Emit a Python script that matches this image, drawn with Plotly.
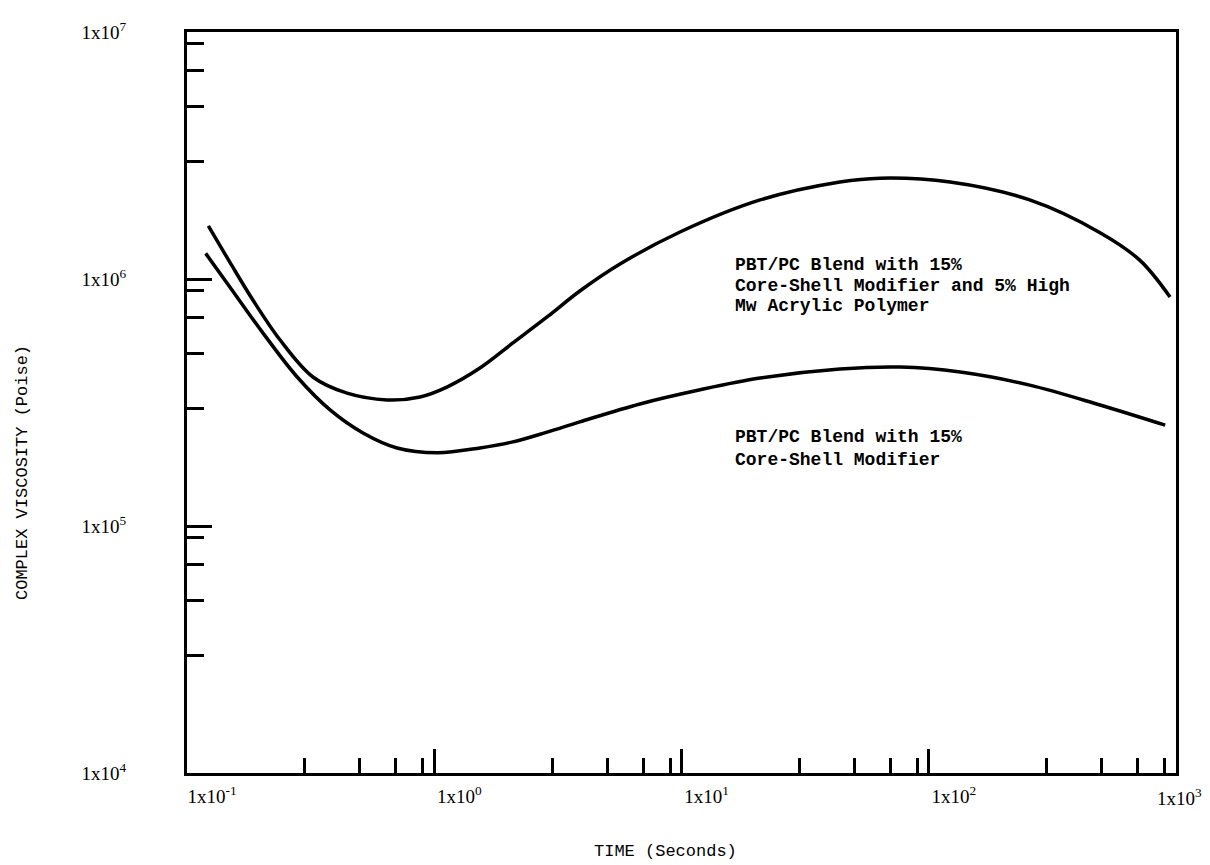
import plotly.graph_objects as go

# ---- data ----
time_upper = [0.122, 0.149, 0.185, 0.238, 0.323, 0.444, 0.644, 0.876, 1.13, 1.53, 2.08, 2.86,
              3.88, 5.64, 9.86, 20.8, 43.7, 63.5, 122, 256, 493, 715, 946]
visc_upper = [1.64e6, 1.17e6, 8.2e5, 5.66e5, 4.01e5, 3.45e5, 3.24e5, 3.33e5, 3.66e5, 4.36e5, 5.51e5, 7.02e5,
              8.94e5, 1.15e6, 1.55e6, 2.09e6, 2.47e6, 2.56e6, 2.47e6, 2.09e6, 1.54e6, 1.19e6, 8.46e5]

time_lower = [0.119, 0.149, 0.203, 0.279, 0.379, 0.515, 0.707, 1.03, 1.53, 2.08, 2.86, 3.88,
              6.79, 11.9, 20.8, 43.7, 76.5, 134, 256, 493, 904]
visc_lower = [1.27e6, 9.29e5, 6.04e5, 4.01e5, 2.95e5, 2.38e5, 2.07e5, 1.98e5, 2.07e5, 2.19e5, 2.40e5, 2.64e5,
              3.12e5, 3.56e5, 3.97e5, 4.32e5, 4.40e5, 4.20e5, 3.72e5, 3.09e5, 2.56e5]

x_major = [0.1, 1, 10, 100, 1000]
x_major_text = ["1x10<sup>-1</sup>", "1x10<sup>0</sup>", "1x10<sup>1</sup>", "1x10<sup>2</sup>", ""]
x_end_label = "1x10<sup>3</sup>"   # last decade label sits at the right edge in the reference
x_minor = [0.3, 0.5, 0.7, 0.9, 3, 5, 7, 9, 30, 50, 70, 90, 300, 500, 700, 900]

y_major = [1e4, 1e5, 1e6, 1e7]
y_major_text = ["1x10<sup>4</sup>", "1x10<sup>5</sup>", "1x10<sup>6</sup>", "1x10<sup>7</sup>"]
y_minor = [3e4, 5e4, 7e4, 9e4, 3e5, 5e5, 7e5, 9e5, 3e6, 5e6, 7e6, 9e6]

label_upper_lines = ["PBT/PC Blend with 15%", "Core-Shell Modifier and 5% High", "Mw Acrylic Polymer"]
label_lower_lines = ["PBT/PC Blend with 15%", "Core-Shell Modifier"]

fig = go.Figure()
fig.add_trace(go.Scatter(x=time_upper, y=visc_upper, mode="lines",
                         line=dict(color="black", width=3.5, shape="spline", smoothing=1.0),
                         showlegend=False))
fig.add_trace(go.Scatter(x=time_lower, y=visc_lower, mode="lines",
                         line=dict(color="black", width=3.5, shape="spline", smoothing=1.0),
                         showlegend=False))

tick_font = dict(family="Liberation Serif", size=19, color="black")
mono = "Liberation Mono"

fig.update_xaxes(type="log", range=[-1, 3], automargin=False,
                 showline=True, linecolor="black", linewidth=3, mirror=True,
                 showgrid=False, zeroline=False,
                 tickmode="array", tickvals=x_major, ticktext=x_major_text,
                 ticks="inside", ticklen=24, tickwidth=3, tickcolor="black",
                 tickfont=tick_font, ticklabelshift=25, ticklabelstandoff=4,
                 ticklabeloverflow="allow",
                 minor=dict(tickmode="array", tickvals=x_minor, ticks="inside",
                            ticklen=15, tickwidth=3, tickcolor="black", showgrid=False))
fig.update_yaxes(type="log", range=[4, 7], automargin=False,
                 showline=True, linecolor="black", linewidth=3, mirror=True,
                 showgrid=False, zeroline=False,
                 tickmode="array", tickvals=y_major, ticktext=y_major_text,
                 ticks="inside", ticklen=25, tickwidth=3, tickcolor="black",
                 tickfont=tick_font, ticklabelstandoff=54, ticklabeloverflow="allow",
                 minor=dict(tickmode="array", tickvals=y_minor, ticks="inside",
                            ticklen=17, tickwidth=3, tickcolor="black", showgrid=False))

# right-most x label (kept inside the page like the reference)
fig.add_annotation(text=x_end_label, x=3, y=-0.0324, xref="x", yref="paper",
                   xanchor="center", yanchor="middle", xshift=3, showarrow=False,
                   font=tick_font)

label_x = 1.208                      # log10 position of the label's left edge
upper_line_y = [6.057, 5.972, 5.891]  # log10 positions of each text line
lower_line_y = [5.360, 5.267]

for txt, yy in zip(label_upper_lines, upper_line_y):
    fig.add_annotation(text="<b>" + txt + "</b>", x=label_x, y=yy, xref="x", yref="y",
                       xanchor="left", yanchor="middle", align="left", showarrow=False,
                       font=dict(family=mono, size=18, color="black"))
for txt, yy in zip(label_lower_lines, lower_line_y):
    fig.add_annotation(text="<b>" + txt + "</b>", x=label_x, y=yy, xref="x", yref="y",
                       xanchor="left", yanchor="middle", align="left", showarrow=False,
                       font=dict(family=mono, size=18, color="black"))

fig.add_annotation(text="TIME (Seconds)", x=0.484, y=-0.1066, xref="paper", yref="paper",
                   xanchor="center", yanchor="middle", showarrow=False,
                   font=dict(family=mono, size=17, color="black"))
fig.add_annotation(text="COMPLEX VISCOSITY (Poise)", x=-0.167, y=0.406, xref="paper", yref="paper",
                   xanchor="center", yanchor="middle", showarrow=False, textangle=-90,
                   font=dict(family=mono, size=17, color="black"))

fig.update_layout(width=1210, height=865,
                  margin=dict(l=187, r=34, t=32, b=92, autoexpand=False),
                  paper_bgcolor="white", plot_bgcolor="white",
                  showlegend=False)

fig.write_html("out.html")
